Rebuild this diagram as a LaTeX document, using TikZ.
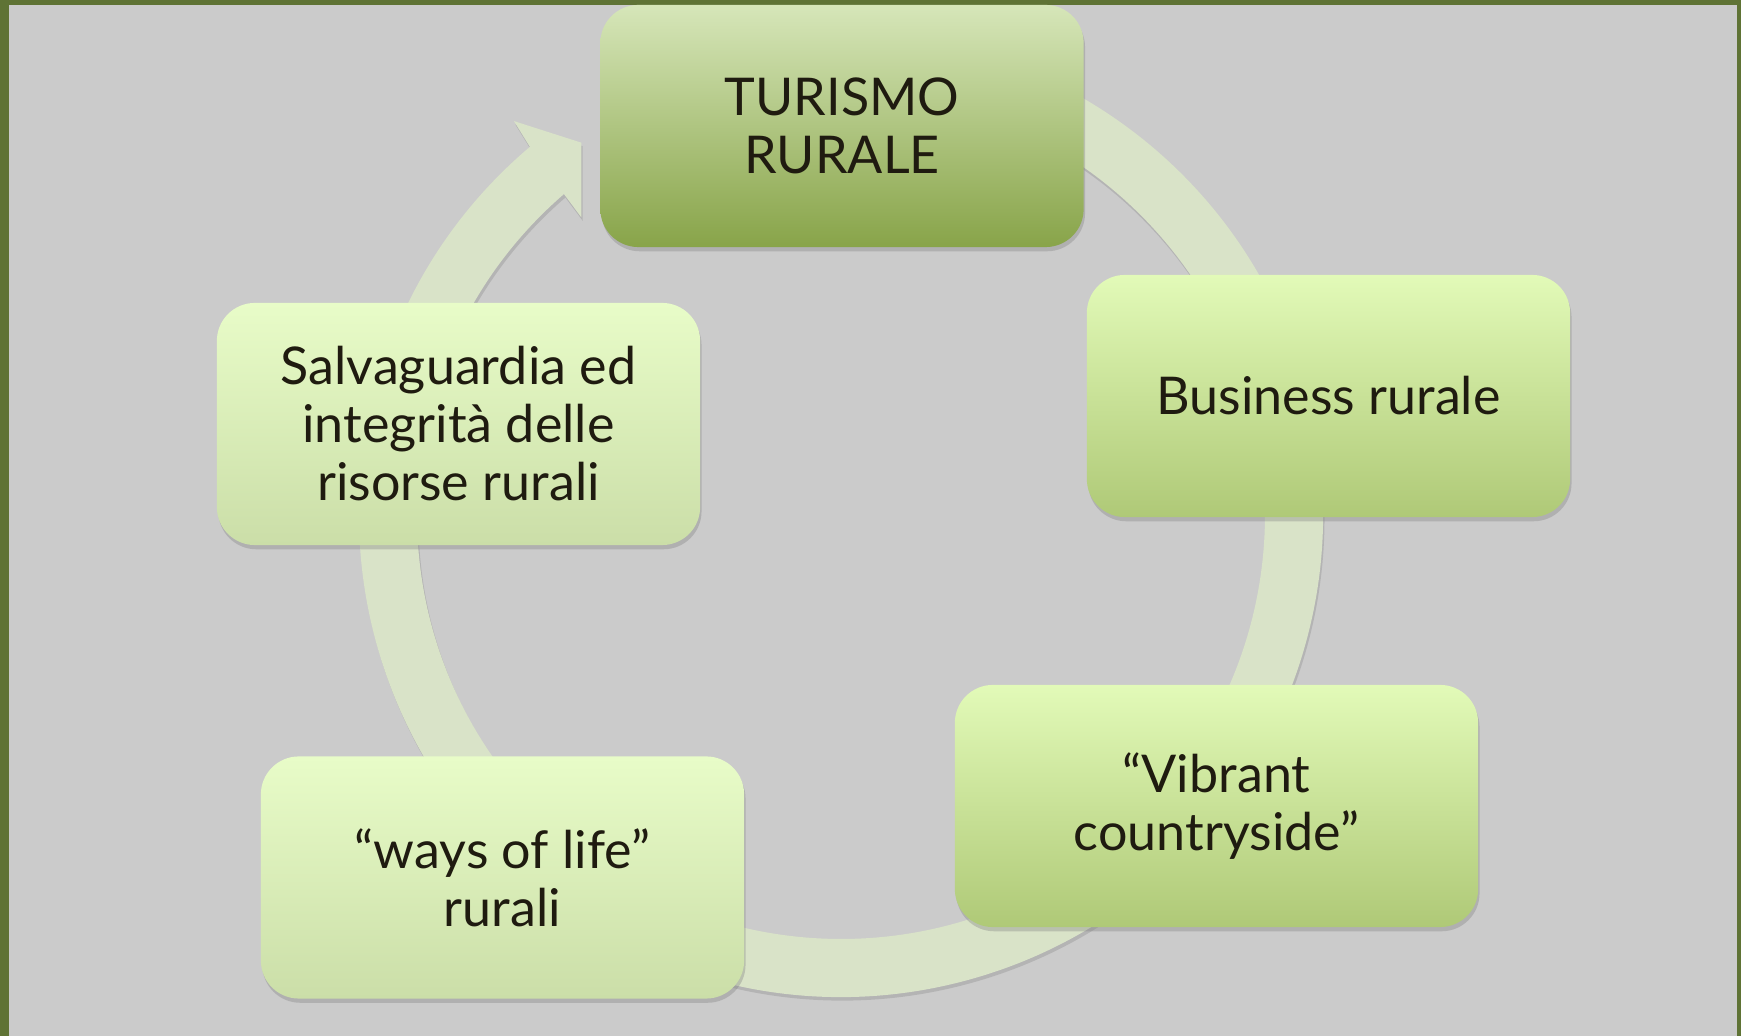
\documentclass[tikz,border=0pt]{standalone}
\usepackage{fontspec}
\setmainfont{Lato}
\usetikzlibrary{shadows}
\definecolor{frameolive}{RGB}{95,115,53}
\definecolor{slidegray}{RGB}{203,203,203}
\definecolor{ringgreen}{RGB}{217,227,200}
\definecolor{inkdark}{RGB}{31,27,16}
\definecolor{darktop}{RGB}{214,230,185}
\definecolor{darkbot}{RGB}{136,164,73}
\definecolor{midtop}{RGB}{226,250,184}
\definecolor{midbot}{RGB}{175,201,119}
\definecolor{paletop}{RGB}{232,252,200}
\definecolor{palebot}{RGB}{203,222,168}
\tikzset{
  stepbox/.style={rounded corners=10.8pt,minimum width=4.83cm,minimum height=2.42cm,
    align=center,text=inkdark,font=\fontsize{14.8pt}{16.5pt}\selectfont,
    drop shadow={shadow xshift=0.4pt,shadow yshift=-1.2pt,opacity=0.35}},
  darkbox/.style={stepbox,top color=darktop,bottom color=darkbot},
  midbox/.style={stepbox,top color=midtop,bottom color=midbot},
  palebox/.style={stepbox,top color=paletop,bottom color=palebot}
}
\begin{document}
\begin{tikzpicture}[x=0.01cm,y=0.01cm]
\useasboundingbox (0,0) rectangle (1741,1036);
\fill[frameolive] (0,0) rectangle (1741,1036);
\fill[slidegray] (9,0) rectangle (1737,1031);
\coordinate (ctr) at (841,521);
\begin{scope}[shift={(ctr)}]
\fill[ringgreen,drop shadow={shadow xshift=0.4pt,shadow yshift=-1pt,opacity=0.3}]
  (105:482) arc[start angle=105,end angle=-229.8,radius=482]
  -- (129.7:512) -- (124.9:454) -- (131.1:395) -- (130.8:424)
  arc[start angle=-229.2,end angle=105,radius=424] -- cycle;
\end{scope}
\node[darkbox] (tur) at (842,910) {TURISMO\\RURALE};
\node[midbox] (bus) at (1328.5,640) {Business rurale};
\node[midbox,minimum width=5.23cm] (vib) at (1216.5,230) {“Vibrant\\countryside”};
\node[palebox] (ways) at (502.5,158.5) {“ways of life”\\rurali};
\node[palebox] (salv) at (458.5,612) {Salvaguardia ed\\integrità delle\\risorse rurali};
\end{tikzpicture}
\end{document}
